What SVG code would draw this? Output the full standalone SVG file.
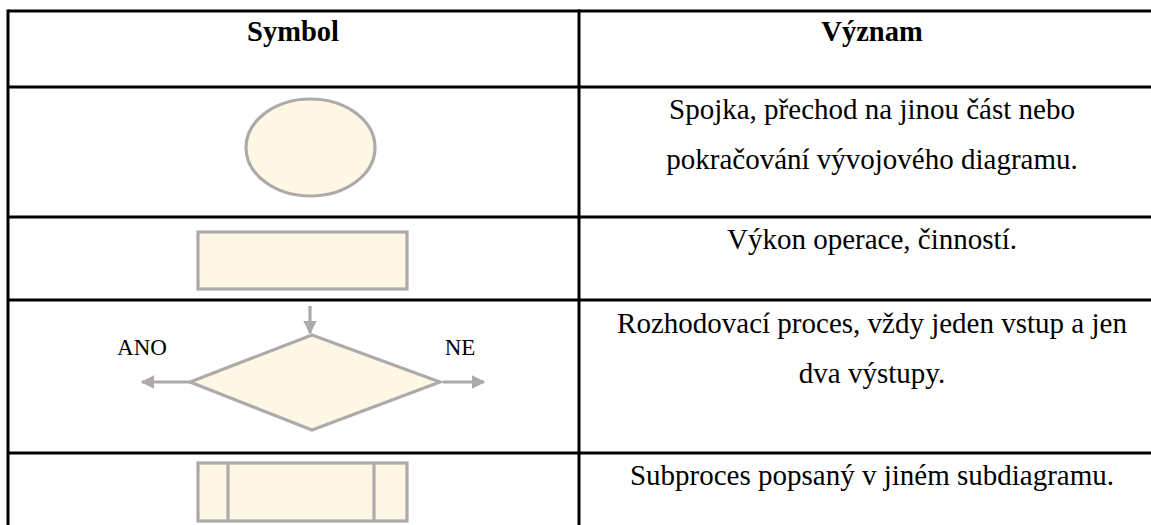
<svg xmlns="http://www.w3.org/2000/svg" width="1151" height="525" viewBox="0 0 1151 525">
<style>
.grid{stroke:#000;stroke-width:3;fill:none}
.shape{fill:#fff7e5;stroke:#aeaaaa;stroke-width:3.2}
.conn{stroke:#aeaaaa;stroke-width:3.2;fill:none}
text{font-family:'Liberation Serif','Times New Roman',Times,'DejaVu Serif',serif;fill:#000}
.hd{font-weight:bold;font-size:28.5px;text-anchor:middle}
.tx{font-size:29px;text-anchor:middle}
.lb{font-size:23px;text-anchor:middle}
</style>
<defs>
<marker id="ah" viewBox="0 0 10 10" refX="9" refY="5" markerWidth="4.2" markerHeight="4.2" orient="auto" markerUnits="strokeWidth">
<path d="M0,0 L10,5 L0,10 z" fill="#aeaaaa"/>
</marker>
</defs>
<rect width="1151" height="525" fill="#fff"/>
<g id="table" font-family="Liberation Serif, serif">
<line class="grid" x1="8" y1="11" x2="1151" y2="11"/>
<line class="grid" x1="8" y1="87" x2="1151" y2="87"/>
<line class="grid" x1="8" y1="217" x2="1151" y2="217"/>
<line class="grid" x1="8" y1="300" x2="1151" y2="300"/>
<line class="grid" x1="8" y1="453" x2="1151" y2="453"/>
<line class="grid" x1="8" y1="9.5" x2="8" y2="525"/>
<line class="grid" x1="579" y1="9.5" x2="579" y2="525"/>
<text class="hd" x="293" y="41">Symbol</text>
<text class="hd" x="872" y="41">Význam</text>
<text class="tx" x="872" y="119">Spojka, přechod na jinou část nebo</text>
<text class="tx" x="872" y="169">pokračování vývojového diagramu.</text>
<text class="tx" x="872" y="249">Výkon operace, činností.</text>
<text class="tx" x="872" y="333">Rozhodovací proces, vždy jeden vstup a jen</text>
<text class="tx" x="872" y="383">dva výstupy.</text>
<text class="tx" x="872" y="485">Subproces popsaný v jiném subdiagramu.</text>
</g>
<g id="connector-node">
<ellipse class="shape" cx="310.5" cy="147.5" rx="64.5" ry="48.5"/>
</g>
<g id="process-node">
<rect class="shape" x="198" y="232" width="209" height="57"/>
</g>
<g id="decision-node">
<polygon class="shape" points="312,335 440,382 312,430 190,382"/>
<text class="lb" x="142" y="355">ANO</text>
<text class="lb" x="460" y="355">NE</text>
</g>
<g id="subprocess-node">
<rect class="shape" x="198" y="463" width="209" height="58"/>
<line class="shape" x1="228" y1="463" x2="228" y2="521"/>
<line class="shape" x1="374" y1="463" x2="374" y2="521"/>
</g>
<g id="connectors">
<line class="conn" x1="310" y1="306" x2="310" y2="333" marker-end="url(#ah)"/>
<line class="conn" x1="190" y1="382" x2="142" y2="382" marker-end="url(#ah)"/>
<line class="conn" x1="443" y1="382" x2="484" y2="382" marker-end="url(#ah)"/>
</g>
</svg>
